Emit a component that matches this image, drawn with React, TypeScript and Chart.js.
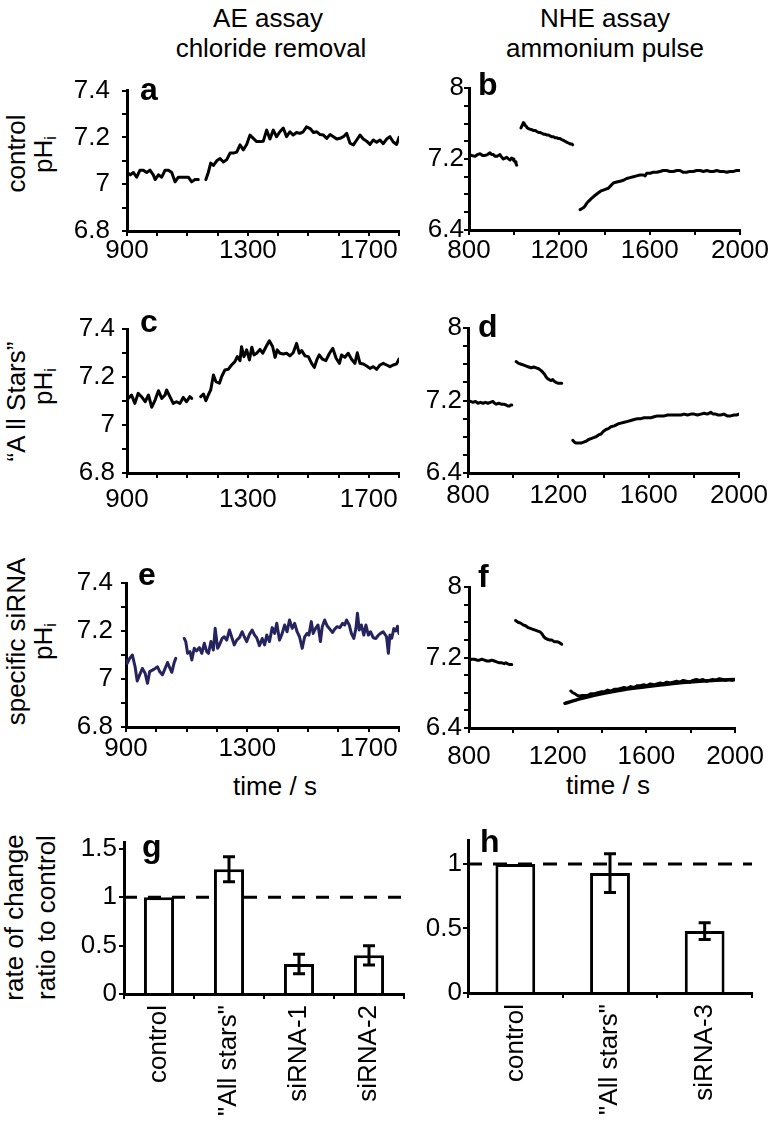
import React, { useEffect, useRef } from "react";
import { Chart, registerables } from "chart.js";

Chart.register(...registerables);

const FONT = '"Liberation Sans", Arial, Helvetica, sans-serif';
const NAVY = "#25245f";

type Pt = [number, number];

// ---------------- AE assay (chloride removal) traces: [time s, pHi] ----------------
const aeControlBefore: Pt[] = [
  [900, 7.05], [911, 7.04], [921, 7.05], [932, 7.03], [943, 7.06], [954, 7.06], [965, 7.05],
  [976, 7.06], [987, 7.04], [993, 7.02], [1004, 7.04], [1015, 7.03], [1026, 7.06], [1037, 7.06],
  [1048, 7.05], [1059, 7.01], [1070, 7.03], [1081, 7.03], [1092, 7.03], [1103, 7.03], [1114, 7.01],
  [1125, 7.02], [1136, 7.02],
];
const aeControlAfter: Pt[] = [
  [1161, 7.02], [1169, 7.05], [1177, 7.09], [1186, 7.08], [1197, 7.1], [1208, 7.11], [1219, 7.095],
  [1230, 7.105], [1241, 7.133], [1252, 7.133], [1263, 7.137], [1274, 7.168], [1285, 7.147], [1296, 7.17],
  [1307, 7.21], [1318, 7.196], [1329, 7.182], [1340, 7.182], [1351, 7.184], [1362, 7.231], [1373, 7.193],
  [1384, 7.231], [1395, 7.203], [1406, 7.224], [1417, 7.24], [1428, 7.203], [1439, 7.224], [1450, 7.21],
  [1461, 7.221], [1472, 7.217], [1483, 7.224], [1494, 7.245], [1506, 7.238], [1517, 7.221], [1528, 7.224],
  [1539, 7.212], [1550, 7.21], [1561, 7.196], [1572, 7.212], [1583, 7.203], [1594, 7.193], [1605, 7.196],
  [1616, 7.203], [1627, 7.217], [1638, 7.175], [1649, 7.168], [1660, 7.189], [1671, 7.21], [1682, 7.193],
  [1693, 7.184], [1704, 7.17], [1715, 7.189], [1726, 7.179], [1737, 7.189], [1748, 7.173], [1759, 7.193],
  [1770, 7.203], [1781, 7.18], [1792, 7.17], [1800, 7.2],
];

const aeAllStarsBefore: Pt[] = [
  [900, 7.104], [904, 7.111], [915, 7.125], [926, 7.09], [937, 7.132], [948, 7.118], [960, 7.097],
  [971, 7.125], [982, 7.074], [993, 7.104], [1004, 7.143], [1015, 7.111], [1026, 7.125], [1031, 7.146],
  [1042, 7.118], [1053, 7.09], [1064, 7.097], [1075, 7.09], [1086, 7.115], [1097, 7.097], [1108, 7.118],
  [1114, 7.111],
];
const aeAllStarsAfter: Pt[] = [
  [1144, 7.118], [1153, 7.129], [1161, 7.101], [1169, 7.125], [1177, 7.146], [1186, 7.208], [1194, 7.181],
  [1206, 7.174], [1213, 7.201], [1224, 7.229], [1235, 7.232], [1246, 7.25], [1257, 7.264], [1265, 7.285],
  [1274, 7.268], [1279, 7.326], [1287, 7.285], [1296, 7.313], [1305, 7.271], [1313, 7.324], [1320, 7.292],
  [1329, 7.299], [1340, 7.315], [1349, 7.299], [1360, 7.326], [1371, 7.351], [1382, 7.326], [1390, 7.282],
  [1397, 7.313], [1406, 7.299], [1417, 7.296], [1428, 7.299], [1439, 7.288], [1450, 7.301], [1461, 7.34],
  [1470, 7.299], [1478, 7.31], [1489, 7.288], [1500, 7.285], [1511, 7.257], [1520, 7.24], [1528, 7.271],
  [1536, 7.292], [1547, 7.274], [1558, 7.268], [1570, 7.299], [1581, 7.319], [1592, 7.278], [1603, 7.257],
  [1610, 7.292], [1621, 7.282], [1632, 7.299], [1643, 7.274], [1654, 7.257], [1662, 7.301], [1671, 7.257],
  [1682, 7.254], [1693, 7.246], [1704, 7.236], [1715, 7.243], [1726, 7.232], [1737, 7.25], [1748, 7.257],
  [1759, 7.25], [1770, 7.243], [1781, 7.25], [1792, 7.255], [1800, 7.275],
];

const aeSiRnaBefore: Pt[] = [
  [900, 7.079], [904, 7.065], [912, 7.086], [921, 7.1], [930, 7.051], [937, 6.992], [945, 7.017],
  [954, 7.044], [963, 7.024], [971, 6.982], [978, 7.031], [987, 7.037], [996, 7.044], [1004, 7.051],
  [1011, 7.031], [1020, 7.017], [1029, 7.044], [1037, 7.069], [1044, 7.047], [1051, 7.028], [1059, 7.069],
  [1064, 7.086],
];
const aeSiRnaAfter: Pt[] = [
  [1092, 7.169], [1097, 7.156], [1103, 7.107], [1111, 7.114], [1117, 7.079], [1125, 7.128], [1133, 7.117],
  [1142, 7.131], [1150, 7.107], [1158, 7.149], [1166, 7.114], [1172, 7.107], [1180, 7.156], [1188, 7.121],
  [1194, 7.211], [1202, 7.128], [1208, 7.142], [1217, 7.169], [1224, 7.176], [1232, 7.162], [1241, 7.204],
  [1250, 7.169], [1257, 7.142], [1265, 7.162], [1274, 7.172], [1283, 7.197], [1290, 7.176], [1298, 7.156],
  [1307, 7.186], [1316, 7.204], [1324, 7.183], [1331, 7.172], [1340, 7.139], [1349, 7.169], [1357, 7.142],
  [1364, 7.183], [1373, 7.156], [1382, 7.214], [1390, 7.19], [1397, 7.232], [1406, 7.162], [1415, 7.19],
  [1423, 7.225], [1431, 7.197], [1439, 7.246], [1448, 7.211], [1456, 7.232], [1464, 7.197], [1472, 7.176],
  [1481, 7.128], [1489, 7.176], [1497, 7.19], [1503, 7.183], [1511, 7.239], [1517, 7.19], [1525, 7.211],
  [1533, 7.225], [1541, 7.156], [1547, 7.218], [1555, 7.246], [1563, 7.222], [1572, 7.208], [1581, 7.194],
  [1588, 7.208], [1596, 7.218], [1605, 7.214], [1614, 7.232], [1621, 7.225], [1627, 7.246], [1636, 7.225],
  [1643, 7.19], [1651, 7.169], [1658, 7.211], [1663, 7.274], [1669, 7.204], [1676, 7.225], [1684, 7.183],
  [1691, 7.225], [1699, 7.183], [1706, 7.197], [1715, 7.172], [1724, 7.169], [1732, 7.183], [1739, 7.19],
  [1748, 7.197], [1759, 7.176], [1765, 7.107], [1770, 7.183], [1776, 7.17], [1783, 7.21], [1790, 7.2],
  [1795, 7.22], [1800, 7.19],
];

// ---------------- NHE assay (ammonium pulse) traces: [time s, pHi] ----------------
const nheControlBase: Pt[] = [
  [800, 7.25], [812, 7.24], [827, 7.23], [838, 7.25], [849, 7.26], [860, 7.24], [871, 7.24], [882, 7.25],
  [893, 7.27], [900, 7.25], [908, 7.25], [916, 7.23], [923, 7.23], [930, 7.24], [937, 7.25], [945, 7.22],
  [952, 7.2], [960, 7.21], [967, 7.22], [975, 7.2], [982, 7.19], [989, 7.21], [995, 7.2], [999, 7.18],
  [1004, 7.17], [1008, 7.15], [1011, 7.13],
];
const nheControlPulse: Pt[] = [
  [1030, 7.55], [1036, 7.58], [1041, 7.61], [1045, 7.6], [1048, 7.58], [1053, 7.57], [1058, 7.55],
  [1066, 7.54], [1078, 7.53], [1086, 7.52], [1094, 7.52], [1100, 7.51], [1108, 7.5], [1114, 7.5],
  [1122, 7.49], [1130, 7.48], [1137, 7.48], [1144, 7.47], [1152, 7.47], [1159, 7.46], [1166, 7.45],
  [1174, 7.45], [1181, 7.44], [1188, 7.44], [1196, 7.43], [1203, 7.43], [1210, 7.42], [1218, 7.41],
  [1225, 7.4], [1232, 7.39], [1240, 7.38], [1248, 7.37], [1255, 7.37], [1259, 7.36],
];
const nheControlRecovery: Pt[] = [
  [1292, 6.63], [1299, 6.64], [1306, 6.65], [1314, 6.67], [1321, 6.7], [1328, 6.72], [1336, 6.74],
  [1344, 6.76], [1353, 6.78], [1363, 6.8], [1373, 6.82], [1384, 6.84], [1395, 6.85], [1406, 6.86],
  [1417, 6.87], [1428, 6.9], [1439, 6.93], [1454, 6.94], [1469, 6.95], [1484, 6.96], [1498, 6.98],
  [1513, 6.99], [1528, 7.0], [1542, 7.01], [1557, 7.02], [1572, 7.02], [1580, 7.01], [1587, 7.04],
  [1602, 7.04], [1616, 7.05], [1631, 7.05], [1646, 7.06], [1660, 7.07], [1675, 7.07], [1690, 7.06],
  [1705, 7.06], [1720, 7.07], [1734, 7.07], [1749, 7.05], [1764, 7.05], [1778, 7.06], [1793, 7.06],
  [1808, 7.07], [1823, 7.07], [1838, 7.06], [1853, 7.07], [1868, 7.06], [1882, 7.06], [1897, 7.07],
  [1912, 7.06], [1927, 7.06], [1941, 7.05], [1956, 7.06], [1971, 7.06], [1985, 7.07], [2000, 7.07],
];

const nheAllStarsBase: Pt[] = [
  [800, 7.2], [811, 7.19], [822, 7.18], [833, 7.19], [844, 7.17], [855, 7.18], [866, 7.17], [877, 7.18],
  [888, 7.17], [899, 7.18], [910, 7.19], [918, 7.17], [925, 7.16], [936, 7.17], [947, 7.16], [958, 7.16],
  [969, 7.15], [976, 7.14], [984, 7.14], [990, 7.15], [994, 7.15],
];
const nheAllStarsPulse: Pt[] = [
  [1013, 7.63], [1024, 7.61], [1036, 7.6], [1047, 7.59], [1058, 7.58], [1069, 7.57], [1080, 7.56],
  [1091, 7.57], [1102, 7.56], [1113, 7.55], [1124, 7.53], [1132, 7.51], [1139, 7.49], [1146, 7.46],
  [1153, 7.44], [1160, 7.43], [1168, 7.42], [1175, 7.43], [1183, 7.41], [1190, 7.4], [1198, 7.39],
  [1206, 7.39], [1215, 7.39],
];
const nheAllStarsRecovery: Pt[] = [
  [1264, 6.76], [1272, 6.74], [1279, 6.73], [1290, 6.73], [1301, 6.73], [1312, 6.74], [1323, 6.75],
  [1334, 6.77], [1345, 6.78], [1356, 6.79], [1367, 6.8], [1378, 6.82], [1389, 6.83], [1400, 6.86],
  [1411, 6.88], [1422, 6.89], [1433, 6.91], [1448, 6.92], [1463, 6.94], [1477, 6.95], [1492, 6.96],
  [1507, 6.97], [1521, 6.98], [1536, 6.99], [1551, 7.0], [1565, 7.0], [1580, 7.01], [1595, 7.01],
  [1610, 7.01], [1624, 7.02], [1639, 7.03], [1654, 7.03], [1669, 7.03], [1684, 7.04], [1699, 7.04],
  [1713, 7.04], [1728, 7.04], [1743, 7.04], [1757, 7.05], [1772, 7.04], [1787, 7.05], [1801, 7.05],
  [1816, 7.04], [1831, 7.05], [1846, 7.06], [1860, 7.05], [1875, 7.07], [1886, 7.05], [1897, 7.05],
  [1908, 7.04], [1919, 7.04], [1933, 7.05], [1948, 7.03], [1963, 7.03], [1978, 7.04], [1989, 7.04],
  [2000, 7.05],
];

const nheSiRnaBase: Pt[] = [
  [800, 7.17], [812, 7.18], [825, 7.18], [836, 7.17], [847, 7.17], [858, 7.18], [870, 7.17], [881, 7.16],
  [892, 7.16], [903, 7.17], [914, 7.16], [925, 7.15], [936, 7.14], [948, 7.14], [959, 7.13], [966, 7.14],
  [973, 7.13], [983, 7.12], [993, 7.12],
];
const nheSiRnaPulse: Pt[] = [
  [1010, 7.62], [1021, 7.6], [1033, 7.59], [1044, 7.57], [1055, 7.56], [1066, 7.54], [1077, 7.53],
  [1088, 7.52], [1099, 7.51], [1110, 7.5], [1121, 7.49], [1129, 7.47], [1136, 7.44], [1144, 7.42],
  [1151, 7.41], [1162, 7.4], [1173, 7.4], [1184, 7.38], [1196, 7.38], [1207, 7.37], [1218, 7.35],
];
const nheSiRnaRecovery: Pt[] = [
  [1259, 6.82], [1268, 6.8], [1277, 6.79], [1288, 6.77], [1299, 6.76], [1310, 6.77], [1321, 6.77],
  [1336, 6.77], [1351, 6.79], [1366, 6.79], [1381, 6.8], [1395, 6.81], [1410, 6.81], [1425, 6.83],
  [1440, 6.82], [1455, 6.84], [1470, 6.84], [1484, 6.85], [1499, 6.86], [1514, 6.85], [1529, 6.87],
  [1544, 6.86], [1559, 6.88], [1573, 6.88], [1588, 6.89], [1603, 6.88], [1618, 6.9], [1633, 6.89],
  [1647, 6.9], [1662, 6.91], [1677, 6.9], [1692, 6.92], [1706, 6.91], [1721, 6.92], [1736, 6.93],
  [1751, 6.92], [1766, 6.94], [1781, 6.93], [1796, 6.92], [1810, 6.94], [1825, 6.95], [1840, 6.94],
  [1855, 6.95], [1870, 6.93], [1884, 6.94], [1899, 6.95], [1914, 6.94], [1929, 6.96], [1944, 6.95],
  [1958, 6.94], [1973, 6.95], [1987, 6.94], [2000, 6.95],
];
const nheSiRnaFit: Pt[] = [
  [1233, 6.68], [1300, 6.73], [1370, 6.775], [1450, 6.815], [1540, 6.85], [1633, 6.88], [1720, 6.905],
  [1810, 6.925], [1900, 6.94], [2000, 6.95],
];

// ---------------- Rate-of-change bar charts ----------------
const aeCategories = ["control", '"All stars"', "siRNA-1", "siRNA-2"];
const aeRatio = [1.0, 1.29, 0.31, 0.4];
const aeRatioErr = [0, 0.13, 0.1, 0.1];

const nheCategories = ["control", '"All stars"', "siRNA-3"];
const nheRatio = [1.0, 0.93, 0.48];
const nheRatioErr = [0, 0.15, 0.065];

// axis tick labels
const aeTimeLabels = [900, 1300, 1700];
const nheTimeLabels = [800, 1200, 1600, 2000];
const aePhLabels: [number, string][] = [[7.4, "7.4"], [7.2, "7.2"], [7.0, "7"], [6.8, "6.8"]];
const nhePhLabels: [number, string][] = [[8, "8"], [7.2, "7.2"], [6.4, "6.4"]];

// ---------------- plugins ----------------
const letterPlugin = {
  id: "panelLetter",
  afterDraw(chart: any, _args: any, opts: any) {
    if (!opts || !opts.text) return;
    const { ctx, chartArea } = chart;
    ctx.save();
    ctx.font = `bold 32px ${FONT}`;
    ctx.fillStyle = "#000";
    ctx.textAlign = "left";
    ctx.textBaseline = "alphabetic";
    ctx.fillText(opts.text, chartArea.left + opts.dx, chartArea.top + opts.dy);
    ctx.restore();
  },
};

const barExtrasPlugin = {
  id: "barExtras",
  beforeDatasetsDraw(chart: any, _args: any, opts: any) {
    if (!opts || opts.ref === undefined) return;
    const { ctx, chartArea } = chart;
    const y = chart.scales.y.getPixelForValue(opts.ref);
    ctx.save();
    ctx.strokeStyle = "#000";
    ctx.lineWidth = 3;
    ctx.setLineDash(opts.dash);
    ctx.beginPath();
    ctx.moveTo(chartArea.left, y);
    ctx.lineTo(chartArea.right, y);
    ctx.stroke();
    ctx.restore();
  },
  afterDatasetsDraw(chart: any, _args: any, opts: any) {
    if (!opts || !opts.errors) return;
    const { ctx } = chart;
    const meta = chart.getDatasetMeta(0);
    const ys = chart.scales.y;
    const vals = chart.data.datasets[0].data as number[];
    ctx.save();
    ctx.strokeStyle = "#000";
    ctx.lineWidth = 3;
    opts.errors.forEach((e: number, i: number) => {
      if (!e) return;
      const x = meta.data[i].x;
      const top = ys.getPixelForValue(vals[i] + e);
      const bot = ys.getPixelForValue(vals[i] - e);
      const c = opts.cap;
      ctx.beginPath();
      ctx.moveTo(x, top);
      ctx.lineTo(x, bot);
      ctx.moveTo(x - c, top);
      ctx.lineTo(x + c, top);
      ctx.moveTo(x - c, bot);
      ctx.lineTo(x + c, bot);
      ctx.stroke();
    });
    ctx.restore();
  },
};

// ---------------- panel specs ----------------
type Area = { left: number; top: number; right: number; bottom: number };
type Seg = { pts: Pt[]; color: string; width: number; smooth?: boolean };
type TraceSpec = {
  kind: "trace";
  area: Area;
  padL: number;
  padT: number;
  padR: number;
  padB: number;
  segs: Seg[];
  x: { min: number; max: number; step: number; labels: number[]; pad: number };
  y: { min: number; max: number; step: number; labels: [number, string][]; pad: number };
  letter: { text: string; dx: number; dy: number };
};
type BarSpec = {
  kind: "bar";
  area: Area;
  padL: number;
  padT: number;
  padR: number;
  padB: number;
  cats: string[];
  vals: number[];
  errs: number[];
  yMax: number;
  yPad: number;
  xPad: number;
  barPct: number;
  dash: number[];
  letter: { text: string; dx: number; dy: number };
};
type Spec = TraceSpec | BarSpec;

const tickFont = { family: FONT, size: 26 };

function gridOpts() {
  return {
    display: true,
    drawOnChartArea: false,
    drawTicks: true,
    tickLength: 5,
    color: "#000",
    lineWidth: 2,
  };
}
const borderOpts = { display: true, color: "#000", width: 3 };

function buildTrace(s: TraceSpec): any {
  return {
    type: "line",
    data: {
      datasets: s.segs.map((g) => ({
        data: g.pts.map(([x, y]) => ({ x, y })),
        borderColor: g.color,
        borderWidth: g.width,
        pointRadius: 0,
        fill: false,
        tension: g.smooth ? 0.4 : 0,
        cubicInterpolationMode: g.smooth ? "monotone" : "default",
        borderJoinStyle: "round",
        borderCapStyle: "round",
      })),
    },
    options: {
      responsive: false,
      animation: false,
      events: [],
      layout: { padding: { left: 0, top: s.padT, right: s.padR, bottom: 0 } },
      plugins: {
        legend: { display: false },
        tooltip: { enabled: false },
        panelLetter: s.letter,
      },
      scales: {
        x: {
          type: "linear",
          min: s.x.min,
          max: s.x.max,
          grid: gridOpts(),
          border: borderOpts,
          ticks: {
            stepSize: s.x.step,
            autoSkip: false,
            maxRotation: 0,
            font: tickFont,
            color: "#000",
            padding: s.x.pad,
            callback: (v: number) =>
              s.x.labels.some((l) => Math.abs(l - v) < 1e-6) ? String(Math.round(v)) : "",
          },
          afterFit: (sc: any) => {
            sc.height = s.padB;
          },
        },
        y: {
          type: "linear",
          min: s.y.min,
          max: s.y.max,
          grid: gridOpts(),
          border: borderOpts,
          ticks: {
            stepSize: s.y.step,
            autoSkip: false,
            font: tickFont,
            color: "#000",
            padding: s.y.pad,
            callback: (v: number) => {
              const f = s.y.labels.find(([l]) => Math.abs(l - v) < 1e-6);
              return f ? f[1] : "";
            },
          },
          afterFit: (sc: any) => {
            sc.width = s.padL;
          },
        },
      },
    },
    plugins: [letterPlugin],
  };
}

function buildBar(s: BarSpec): any {
  return {
    type: "bar",
    data: {
      labels: s.cats,
      datasets: [
        {
          data: s.vals,
          backgroundColor: "#fff",
          borderColor: "#000",
          borderWidth: 3,
          barPercentage: s.barPct,
          categoryPercentage: 1,
        },
      ],
    },
    options: {
      responsive: false,
      animation: false,
      events: [],
      layout: { padding: { left: 0, top: s.padT, right: s.padR, bottom: 0 } },
      plugins: {
        legend: { display: false },
        tooltip: { enabled: false },
        panelLetter: s.letter,
        barExtras: { errors: s.errs, ref: 1, dash: s.dash, cap: 6 },
      },
      scales: {
        x: {
          type: "category",
          offset: true,
          grid: { ...gridOpts(), offset: true },
          border: borderOpts,
          ticks: {
            autoSkip: false,
            minRotation: 90,
            maxRotation: 90,
            font: tickFont,
            color: "#000",
            padding: s.xPad,
          },
          afterFit: (sc: any) => {
            sc.height = s.padB;
          },
        },
        y: {
          type: "linear",
          min: 0,
          max: s.yMax,
          grid: gridOpts(),
          border: borderOpts,
          ticks: {
            stepSize: 0.5,
            includeBounds: false,
            font: tickFont,
            color: "#000",
            padding: s.yPad,
            callback: (v: number) => String(Math.round(v * 10) / 10),
          },
          afterFit: (sc: any) => {
            sc.width = s.padL;
          },
        },
      },
    },
    plugins: [letterPlugin, barExtrasPlugin],
  };
}

const aeX = (pad: number) => ({ min: 900, max: 1800, step: 100, labels: aeTimeLabels, pad });
const aeY = (pad: number) => ({ min: 6.8, max: 7.4, step: 0.1, labels: aePhLabels, pad });
const nheX = (pad: number) => ({ min: 800, max: 2000, step: 200, labels: nheTimeLabels, pad });
const nheY = (pad: number) => ({ min: 6.4, max: 8, step: 0.2, labels: nhePhLabels, pad });

const SPECS: Spec[] = [
  {
    kind: "trace",
    area: { left: 127, top: 88, right: 399, bottom: 231 },
    padL: 120, padT: 25, padR: 30, padB: 45,
    segs: [
      { pts: aeControlBefore, color: "#000", width: 3 },
      { pts: aeControlAfter, color: "#000", width: 3 },
    ],
    x: aeX(-1), y: aeY(12),
    letter: { text: "a", dx: 13, dy: 9 },
  },
  {
    kind: "trace",
    area: { left: 469, top: 88, right: 740, bottom: 230 },
    padL: 70, padT: 25, padR: 32, padB: 45,
    segs: [
      { pts: nheControlBase, color: "#000", width: 3 },
      { pts: nheControlPulse, color: "#000", width: 3 },
      { pts: nheControlRecovery, color: "#000", width: 3 },
    ],
    x: nheX(0), y: nheY(0),
    letter: { text: "b", dx: 9, dy: 7 },
  },
  {
    kind: "trace",
    area: { left: 127, top: 329, right: 399, bottom: 473 },
    padL: 120, padT: 25, padR: 30, padB: 45,
    segs: [
      { pts: aeAllStarsBefore, color: "#000", width: 3 },
      { pts: aeAllStarsAfter, color: "#000", width: 3 },
    ],
    x: aeX(6), y: aeY(7),
    letter: { text: "c", dx: 13, dy: 3 },
  },
  {
    kind: "trace",
    area: { left: 468, top: 328, right: 739, bottom: 473 },
    padL: 70, padT: 25, padR: 32, padB: 45,
    segs: [
      { pts: nheAllStarsBase, color: "#000", width: 3 },
      { pts: nheAllStarsPulse, color: "#000", width: 3 },
      { pts: nheAllStarsRecovery, color: "#000", width: 3 },
    ],
    x: nheX(2), y: nheY(1),
    letter: { text: "d", dx: 10, dy: 9 },
  },
  {
    kind: "trace",
    area: { left: 126, top: 583, right: 399, bottom: 727 },
    padL: 119, padT: 25, padR: 30, padB: 45,
    segs: [
      { pts: aeSiRnaBefore, color: NAVY, width: 3 },
      { pts: aeSiRnaAfter, color: NAVY, width: 3 },
    ],
    x: aeX(1), y: aeY(8),
    letter: { text: "e", dx: 12, dy: 2 },
  },
  {
    kind: "trace",
    area: { left: 469, top: 587, right: 740, bottom: 728 },
    padL: 70, padT: 25, padR: 32, padB: 45,
    segs: [
      { pts: nheSiRnaBase, color: "#000", width: 3 },
      { pts: nheSiRnaPulse, color: "#000", width: 3 },
      { pts: nheSiRnaRecovery, color: "#000", width: 3 },
      { pts: nheSiRnaFit, color: "#000", width: 3.5, smooth: true },
    ],
    x: nheX(8), y: nheY(2),
    letter: { text: "f", dx: 9, dy: 0 },
  },
  {
    kind: "bar",
    area: { left: 124, top: 842, right: 404, bottom: 994 },
    padL: 110, padT: 25, padR: 20, padB: 127,
    cats: aeCategories, vals: aeRatio, errs: aeRatioErr,
    yMax: 1.572, yPad: 2, xPad: 6, barPct: 0.43, dash: [13, 11],
    letter: { text: "g", dx: 18, dy: 15 },
  },
  {
    kind: "bar",
    area: { left: 468, top: 840, right: 752, bottom: 993 },
    padL: 60, padT: 25, padR: 20, padB: 128,
    cats: nheCategories, vals: nheRatio, errs: nheRatioErr,
    yMax: 1.186, yPad: 1, xPad: 6, barPct: 0.42, dash: [14, 11],
    letter: { text: "h", dx: 12, dy: 12 },
  },
];

function ChartPanel({ spec }: { spec: Spec }) {
  const ref = useRef<HTMLCanvasElement>(null);
  const { area, padL, padT, padR, padB } = spec;
  const w = area.right - area.left + padL + padR;
  const h = area.bottom - area.top + padT + padB;
  useEffect(() => {
    if (!ref.current) return;
    const cfg = spec.kind === "trace" ? buildTrace(spec) : buildBar(spec);
    const chart = new Chart(ref.current, cfg);
    return () => chart.destroy();
  }, [spec]);
  return (
    <canvas
      ref={ref}
      width={w}
      height={h}
      style={{ position: "absolute", left: area.left - padL, top: area.top - padT, width: w, height: h }}
    />
  );
}

function VLabel({ cx, cy, children }: { cx: number; cy: number; children: React.ReactNode }) {
  return (
    <div
      style={{
        position: "absolute",
        left: cx - 120,
        top: cy - 13.5,
        width: 240,
        height: 27,
        lineHeight: "27px",
        fontSize: 26,
        textAlign: "center",
        whiteSpace: "nowrap",
        transform: "rotate(-90deg)",
      }}
    >
      {children}
    </div>
  );
}

function HLabel({ cx, baseline, children }: { cx: number; baseline: number; children: React.ReactNode }) {
  return (
    <div
      style={{
        position: "absolute",
        left: cx - 150,
        top: baseline - 22.5,
        width: 300,
        height: 27,
        lineHeight: "27px",
        fontSize: 26,
        textAlign: "center",
        whiteSpace: "nowrap",
      }}
    >
      {children}
    </div>
  );
}

const PHi = () => (
  <span>
    pH<sub style={{ fontSize: "0.62em", lineHeight: 0, verticalAlign: "-0.3em" }}>i</sub>
  </span>
);

export default function App() {
  return (
    <div
      style={{
        position: "absolute",
        left: 0,
        top: 0,
        width: 773,
        height: 1121,
        background: "#fff",
        color: "#000",
        fontFamily: FONT,
        overflow: "hidden",
      }}
    >
      <HLabel cx={268} baseline={27}>AE assay</HLabel>
      <HLabel cx={271} baseline={57}>chloride removal</HLabel>
      <HLabel cx={605} baseline={27}>NHE assay</HLabel>
      <HLabel cx={605} baseline={57}>ammonium pulse</HLabel>

      <VLabel cx={16} cy={153}>control</VLabel>
      <VLabel cx={43} cy={154}><PHi /></VLabel>
      <VLabel cx={16} cy={401}>“A ll Stars”</VLabel>
      <VLabel cx={43} cy={386}><PHi /></VLabel>
      <VLabel cx={16} cy={641}>specific siRNA</VLabel>
      <VLabel cx={43} cy={641}><PHi /></VLabel>
      <VLabel cx={14} cy={917}>rate of change</VLabel>
      <VLabel cx={46} cy={917}>ratio to control</VLabel>

      <HLabel cx={275} baseline={795}>time / s</HLabel>
      <HLabel cx={608} baseline={794}>time / s</HLabel>

      {SPECS.map((s, i) => (
        <ChartPanel key={i} spec={s} />
      ))}
    </div>
  );
}
